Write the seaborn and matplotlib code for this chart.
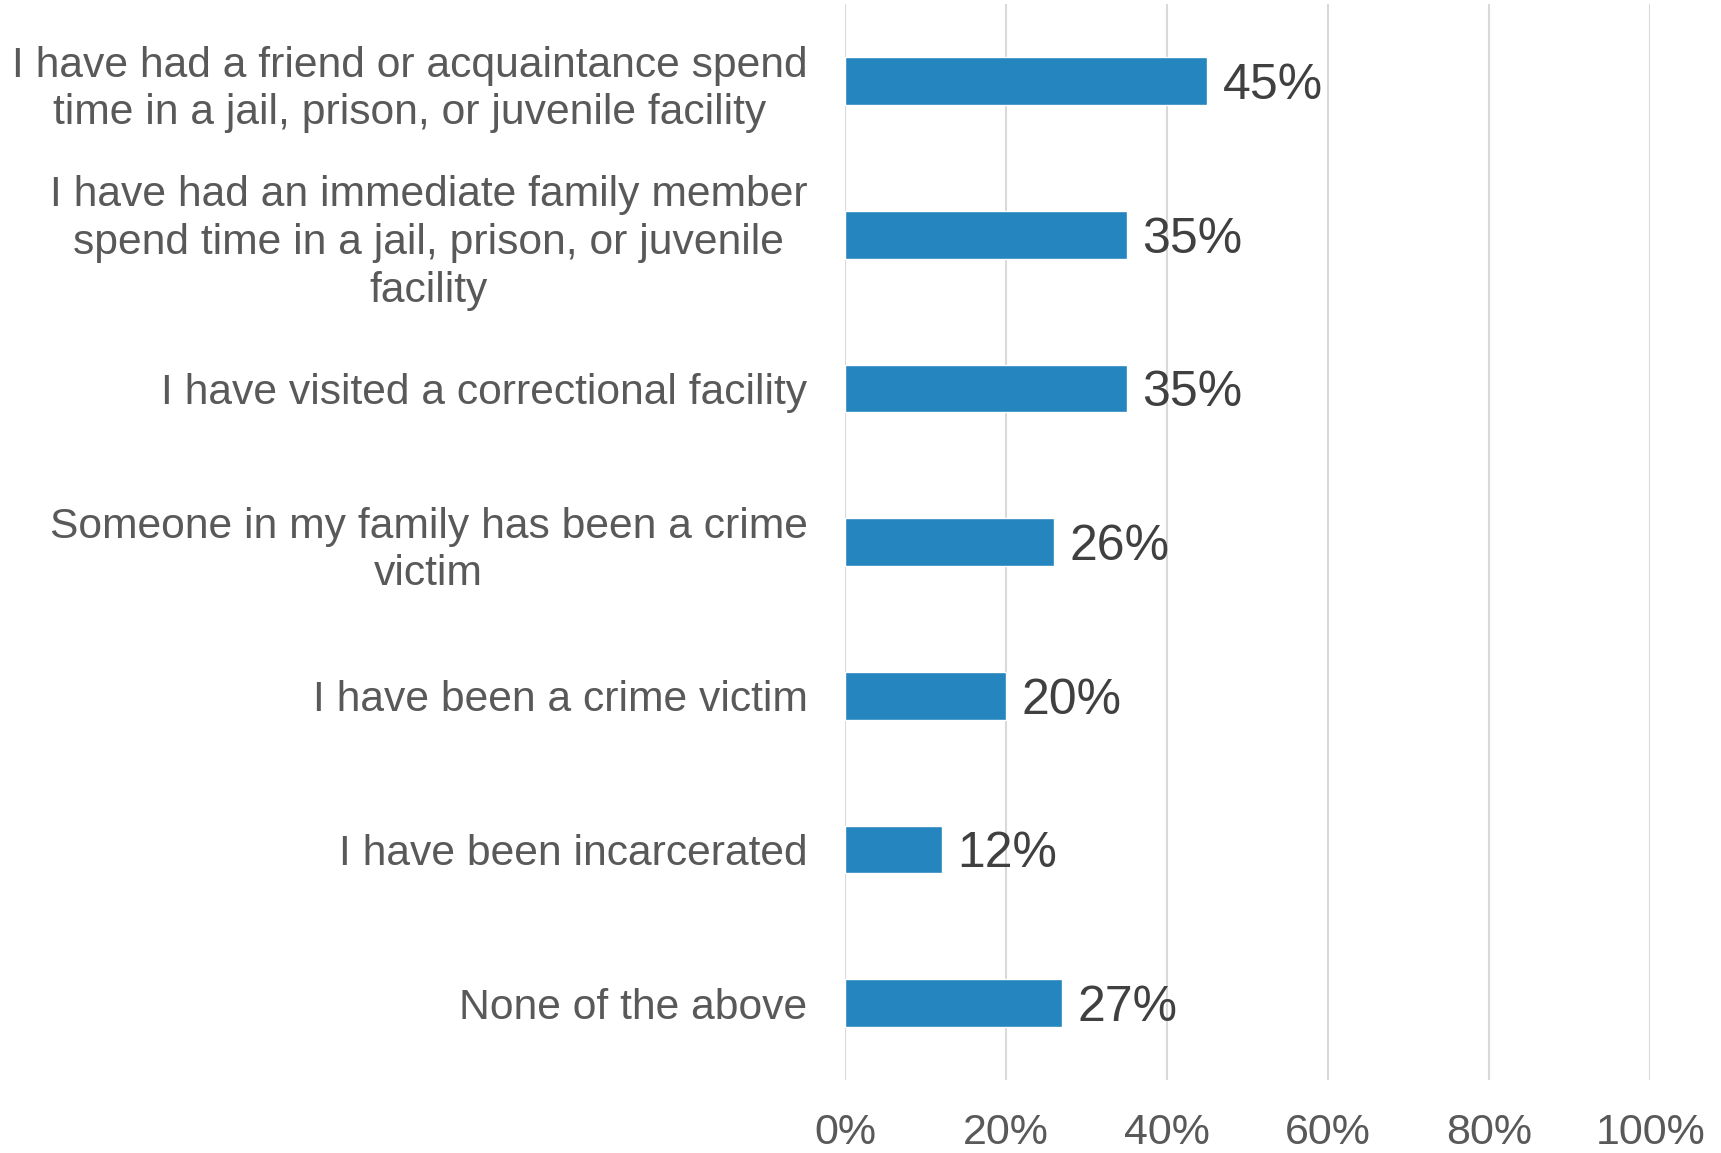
import pandas as pd
import seaborn as sns
import matplotlib.pyplot as plt
from matplotlib.ticker import PercentFormatter

categories = [
    "I have had a friend or acquaintance spend\ntime in a jail, prison, or juvenile facility",
    "I have had an immediate family member\nspend time in a jail, prison, or juvenile\nfacility",
    "I have visited a correctional facility",
    "Someone in my family has been a crime\nvictim",
    "I have been a crime victim",
    "I have been incarcerated",
    "None of the above",
]
values = [45, 35, 35, 26, 20, 12, 27]
x_ticks = [0, 20, 40, 60, 80, 100]

df = pd.DataFrame({"category": categories, "pct": values})

sns.set_style("white")
plt.rcParams["font.family"] = ["Liberation Sans", "DejaVu Sans"]

fig = plt.figure(figsize=(17.21, 11.53), dpi=100)
ax = fig.add_axes([0.491, 0.0633, 0.468, 0.933])

sns.barplot(data=df, x="pct", y="category", orient="h", color="#2585BF",
            saturation=1, width=0.31, ax=ax)

for i, v in enumerate(values):
    ax.text(v + 1.9, i, f"{v}%", va="center_baseline", ha="left", fontsize=36, color="#404040")

ax.set_xlim(0, 100)
ax.set_ylim(6.5, -0.5)
ax.set_xticks(x_ticks)
ax.xaxis.set_major_formatter(PercentFormatter(decimals=0))
ax.grid(axis="x", color="#D9D9D9", linewidth=1.5)
ax.set_axisbelow(True)
sns.despine(ax=ax, left=True, bottom=True)
ax.set_xlabel("")
ax.set_ylabel("")
ax.tick_params(axis="x", length=0, pad=24, labelsize=31, labelcolor="#595959")
ax.tick_params(axis="y", length=0, pad=27, labelsize=30.7, labelcolor="#595959")
for lbl in ax.get_yticklabels():
    lbl.set_multialignment("center")
    lbl.set_linespacing(1.25)

fig.savefig("out.png", dpi=100)
